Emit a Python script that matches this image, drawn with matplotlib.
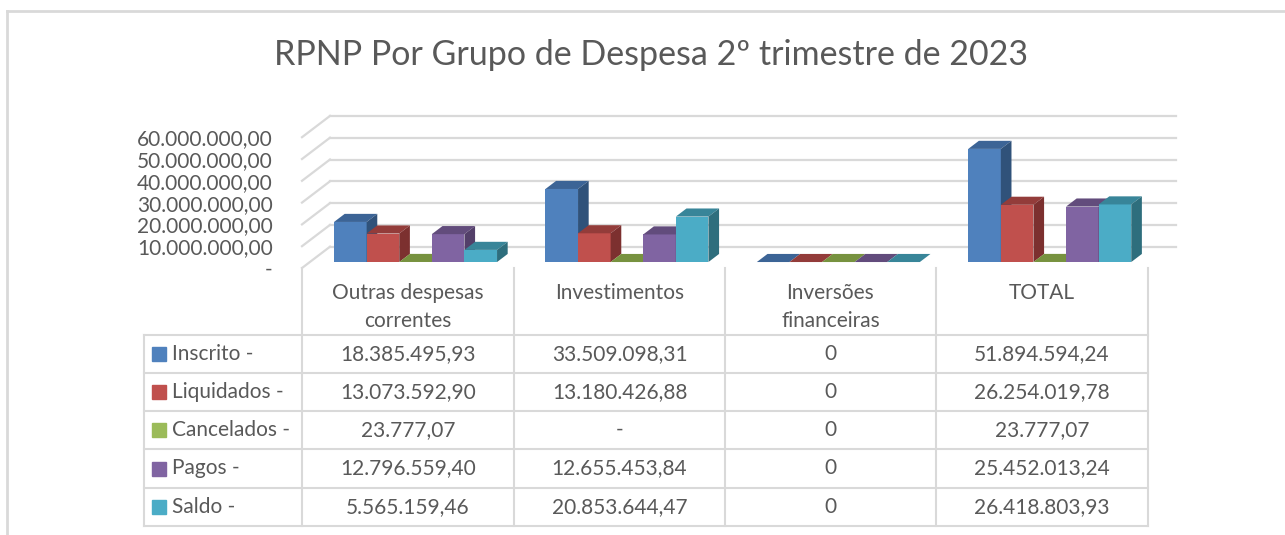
import matplotlib.pyplot as plt
from matplotlib.patches import Polygon, Rectangle

plt.rcParams['font.family'] = ['Lato', 'DejaVu Sans']

# categorias e séries (RPNP por grupo de despesa)
categorias = ["Outras despesas\ncorrentes", "Investimentos", "Inversões\nfinanceiras", "TOTAL"]
series = ["Inscrito -", "Liquidados -", "Cancelados -", "Pagos -", "Saldo -"]

outras_correntes = [18385495.93, 13073592.90, 23777.07, 12796559.40, 5565159.46]
investimentos = [33509098.31, 13180426.88, None, 12655453.84, 20853644.47]
inversoes = [0, 0, 0, 0, 0]
total = [51894594.24, 26254019.78, 23777.07, 25452013.24, 26418803.93]

y_ticks = [0, 10000000, 20000000, 30000000, 40000000, 50000000, 60000000]

colunas = [outras_correntes, investimentos, inversoes, total]

cores_frente = ['#4F81BD', '#C0504D', '#9BBB59', '#8064A2', '#4BACC6']
cores_topo = ['#3C6496', '#933C3A', '#77923F', '#624C7C', '#388599']
cores_lado = ['#30527A', '#7C302F', '#62792F', '#533F69', '#2E6E7D']
GRID = '#D9D9D9'
TEXTO = '#595959'


def brl(v):
    if v is None:
        return '-'
    if v == 0:
        return '0'
    s = f"{v:,.2f}"
    return s.replace(',', 'X').replace('.', ',').replace('X', '.')


def rotulo_eixo(v):
    return '-' if v == 0 else brl(v)


W, H = 1285, 535
fig = plt.figure(figsize=(W / 100, H / 100), dpi=100)

# camada de fundo em pixels: moldura e tabela de dados
bg = fig.add_axes([0, 0, 1, 1])
bg.set_xlim(0, W)
bg.set_ylim(H, 0)
bg.axis('off')

bg.plot([7, W], [11, 11], color=GRID, lw=2)
bg.plot([7, 7], [11, H], color=GRID, lw=2)

bg.text(651, 55, "RPNP Por Grupo de Despesa 2º trimestre de 2023",
        ha='center', va='center', fontsize=24.5, color=TEXTO)

col_x = [302, 514, 725, 936, 1147.5]
row_y = [335, 373, 411, 449, 488, 526]
tab_left = 144

for x in col_x:
    bg.plot([x, x], [268, row_y[-1]], color=GRID, lw=1.5)
bg.plot([tab_left, tab_left], [row_y[0], row_y[-1]], color=GRID, lw=1.5)
for y in row_y:
    bg.plot([tab_left, col_x[-1]], [y, y], color=GRID, lw=1.5)

for i, cat in enumerate(categorias):
    cx = (col_x[i] + col_x[i + 1]) / 2
    for k, linha in enumerate(cat.split('\n')):
        bg.text(cx, 293 + k * 28, linha, ha='center', va='center',
                fontsize=15, color=TEXTO)

for j, nome in enumerate(series):
    cy = (row_y[j] + row_y[j + 1]) / 2
    bg.add_patch(Rectangle((152, cy - 7), 14, 14, color=cores_frente[j]))
    bg.text(172, cy, nome, ha='left', va='center', fontsize=15, color=TEXTO)
    for i, col in enumerate(colunas):
        cx = (col_x[i] + col_x[i + 1]) / 2
        bg.text(cx, cy, brl(col[j]), ha='center', va='center',
                fontsize=15, color=TEXTO)

# gráfico 3D simulado: eixo em unidades de categoria x valor
COL_PX = 211.4
PX_POR_VALOR = 21.8 / 10000000
ax_l, ax_r, ax_b, ax_t = 302, 1190, 268, 95
ax = fig.add_axes([ax_l / W, (H - ax_b) / H, (ax_r - ax_l) / W, (ax_b - ax_t) / H])
ax.patch.set_alpha(0)
ax.set_xlim(-0.5, -0.5 + (ax_r - ax_l) / COL_PX)
ax.set_ylim(0, (ax_b - ax_t) / PX_POR_VALOR)

DX = 28 / COL_PX
DY = 21.3 / PX_POR_VALOR
x_min, x_max = -0.5, len(categorias) - 0.5

# paredes: linhas de grade no fundo e na lateral esquerda
for v in y_ticks:
    ax.plot([x_min + DX, x_max + DX], [v + DY, v + DY], color=GRID, lw=1.6, zorder=1,
            clip_on=False)
    ax.plot([x_min, x_min + DX], [v, v + DY], color=GRID, lw=1.6, zorder=1, clip_on=False)

bar_w = 32.6 / COL_PX
frente = 0.28
prof = 0.38
n = len(series)

for j in range(n):
    xs = [i - n / 2 * bar_w + j * bar_w + frente * DX for i in range(len(colunas))]
    hs = [col[j] or 0 for col in colunas]
    base = frente * DY
    ax.bar(xs, hs, width=bar_w, bottom=base, align='edge', color=cores_frente[j],
           lw=0, zorder=3 + j)
    for x0, h in zip(xs, hs):
        x1 = x0 + bar_w
        topo = base + h
        ddx, ddy = prof * DX, prof * DY
        ax.add_patch(Polygon([(x0, topo), (x1, topo), (x1 + ddx, topo + ddy),
                              (x0 + ddx, topo + ddy)], closed=True,
                             facecolor=cores_topo[j], lw=0, zorder=3 + j))
        if h > 0:
            ax.add_patch(Polygon([(x1, base), (x1, topo), (x1 + ddx, topo + ddy),
                                  (x1 + ddx, base + ddy)], closed=True,
                                 facecolor=cores_lado[j], lw=0, zorder=3 + j))

for s in ax.spines.values():
    s.set_visible(False)
ax.set_xticks([])
ax.set_yticks(y_ticks)
ax.set_yticklabels([rotulo_eixo(v) for v in y_ticks])
ax.tick_params(axis='y', length=0, pad=21, labelsize=15, labelcolor=TEXTO)

fig.savefig('out.png', dpi=100)
